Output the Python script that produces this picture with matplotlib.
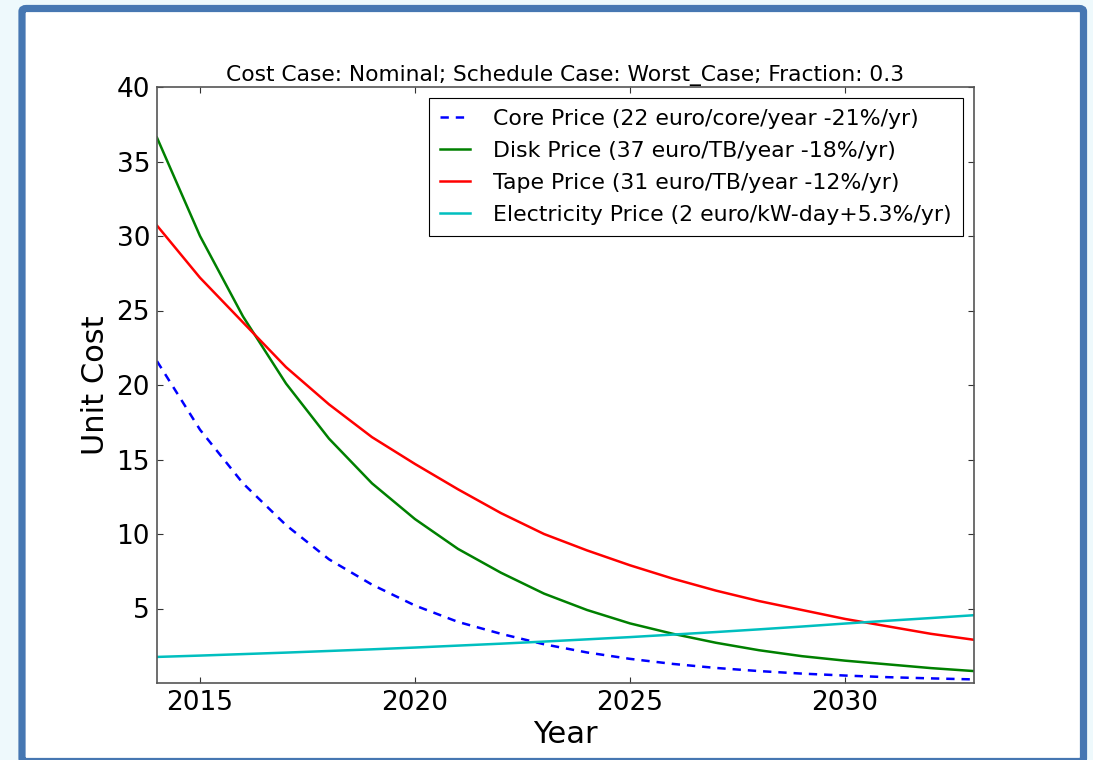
"""
Unit cost projections for core, disk, tape and electricity prices.
"""

import matplotlib
matplotlib.use('Agg')
import matplotlib.pyplot as plt
from matplotlib.patches import FancyBboxPatch

years = list(range(2014, 2034))

core_price = [21.6, 17.0, 13.4, 10.6, 8.3, 6.6, 5.2, 4.1, 3.3, 2.6,
              2.05, 1.62, 1.28, 1.01, 0.80, 0.63, 0.50, 0.39, 0.31, 0.24]
disk_price = [36.6, 30.0, 24.6, 20.1, 16.4, 13.4, 11.0, 9.0, 7.4, 6.0,
              4.9, 4.0, 3.3, 2.7, 2.2, 1.8, 1.5, 1.25, 1.0, 0.8]
tape_price = [30.7, 27.2, 24.2, 21.2, 18.7, 16.5, 14.7, 13.0, 11.4, 10.0,
              8.9, 7.9, 7.0, 6.2, 5.5, 4.9, 4.3, 3.8, 3.3, 2.9]
elec_price = [1.75, 1.84, 1.94, 2.04, 2.15, 2.26, 2.38, 2.51, 2.64, 2.78,
              2.93, 3.08, 3.25, 3.42, 3.60, 3.79, 3.99, 4.18, 4.36, 4.55]

labels = ['Core Price (22 euro/core/year -21%/yr)',
          'Disk Price (37 euro/TB/year -18%/yr)',
          'Tape Price (31 euro/TB/year -12%/yr)',
          'Electricity Price (2 euro/kW-day+5.3%/yr)']

title = 'Cost Case: Nominal; Schedule Case: Worst_Case; Fraction: 0.3'

plt.rcParams['lines.scale_dashes'] = False

W, H = 1093, 760
fig = plt.figure(figsize=(W / 100, H / 100), dpi=100)
fig.patch.set_facecolor('#eef9fc')

# screenshot frame
frame = FancyBboxPatch((22 / W, 1 - 761.5 / H), (1083.5 - 22) / W, (761.5 - 8.5) / H,
                       boxstyle='round,pad=0,rounding_size=0.004',
                       transform=fig.transFigure, facecolor='white',
                       edgecolor='#4677b2', linewidth=5.2, zorder=-5)
fig.patches.append(frame)

ax = fig.add_axes([157 / W, 1 - 683 / H, (974 - 157) / W, (683 - 87) / H])
ax.set_zorder(2)
ax.set_facecolor('white')

ax.plot(years, core_price, color='blue', lw=1.8, dashes=(6, 5), label=labels[0])
ax.plot(years, disk_price, color='green', lw=1.8, label=labels[1])
ax.plot(years, tape_price, color='red', lw=1.8, label=labels[2])
ax.plot(years, elec_price, color=(0, 0.75, 0.75), lw=1.8, label=labels[3])

ax.set_xlim(2014, 2033)
ax.set_ylim(0, 40)
ax.set_xticks([2015, 2020, 2025, 2030])
ax.set_yticks([5, 10, 15, 20, 25, 30, 35, 40])
ax.tick_params(direction='in', length=4, width=0.8, top=True, right=True,
               labelsize=19, pad=5, color='#333333')
for s in ax.spines.values():
    s.set_color('#555555')
    s.set_linewidth(1.2)

ax.set_xlabel('Year', fontsize=22, labelpad=3)
ax.set_ylabel('Unit Cost', fontsize=22, labelpad=5)
ax.set_title(title, fontsize=15.7, pad=4)

leg = ax.legend(loc='upper right', fontsize=15.8, fancybox=False, framealpha=1,
                edgecolor='black', handlelength=1.4, borderaxespad=0.5,
                borderpad=0.5, labelspacing=0.55, handletextpad=1.05)
leg.get_frame().set_linewidth(0.8)

plt.savefig('out.png', dpi=100)
plt.close()
